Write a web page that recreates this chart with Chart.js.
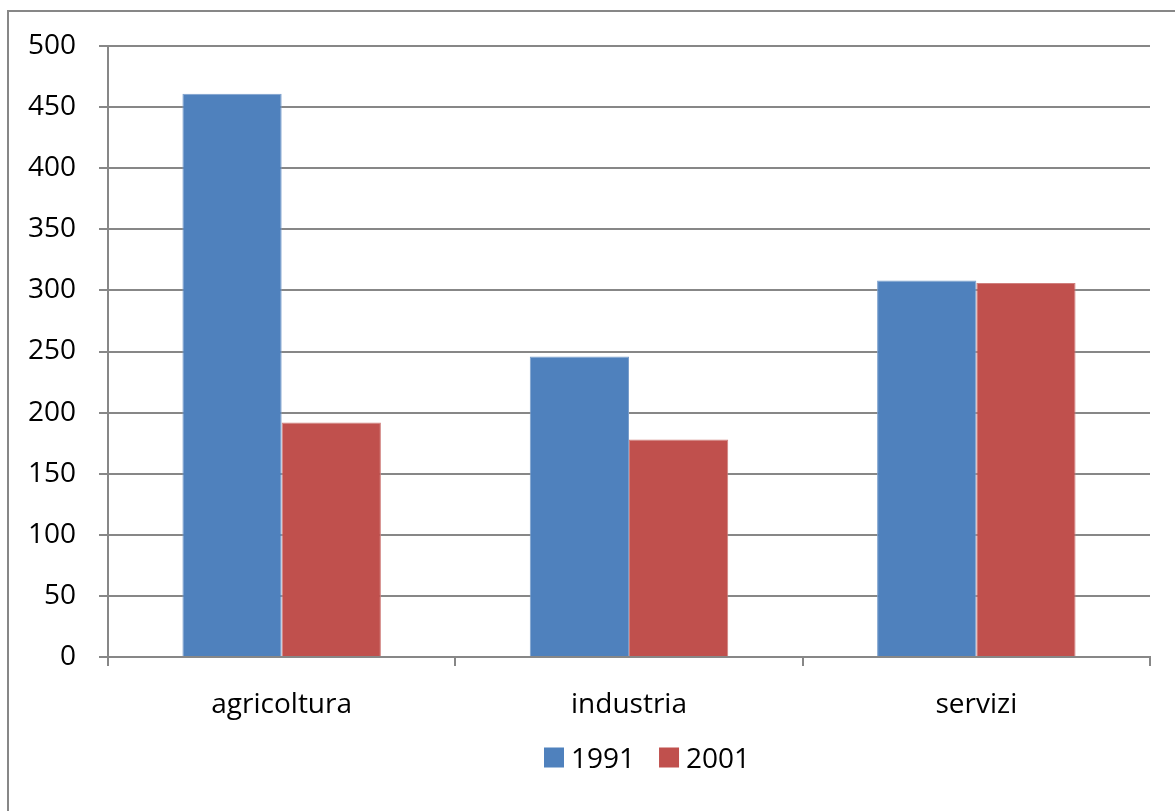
<!DOCTYPE html>
<html>
<head>
<meta charset="utf-8">
<script src="https://cdn.jsdelivr.net/npm/chart.js@4/dist/chart.umd.min.js"></script>
<style>
  html, body { margin: 0; padding: 0; background: #ffffff; }
  #wrap { position: relative; width: 1175px; height: 811px; }
</style>
</head>
<body>
<div id="wrap"><canvas id="chart" width="1175" height="811"></canvas></div>
<script>
// Sectors and employment figures for the two census years
const categories = ['agricoltura', 'industria', 'servizi'];
const years = ['1991', '2001'];
const values1991 = [461, 246, 308];
const values2001 = [192, 178, 306];
const yTicks = [0, 50, 100, 150, 200, 250, 300, 350, 400, 450, 500];

const FONT = '"Open Sans", "Noto Sans", sans-serif';
const FONT_SIZE = 28;
const GRID = '#878787';

// Frame around the whole chart object
const framePlugin = {
  id: 'frame',
  beforeDraw(chart) {
    const ctx = chart.ctx;
    ctx.save();
    ctx.fillStyle = '#ffffff';
    ctx.fillRect(0, 0, chart.width, chart.height);
    ctx.strokeStyle = GRID;
    ctx.lineWidth = 2;
    ctx.strokeRect(8, 11, chart.width + 40, chart.height + 40);
    ctx.restore();
  }
};

// Compact legend row under the category labels: square swatch, then year
const legendRowPlugin = {
  id: 'legendRow',
  afterDraw(chart) {
    const ctx = chart.ctx;
    const box = 20, gapText = 7, gapItem = 24;
    const centerX = 647, baseY = 768;
    ctx.save();
    ctx.font = FONT_SIZE + 'px ' + FONT;
    const items = chart.data.datasets.map(ds => ({
      text: ds.label,
      color: ds.backgroundColor,
      w: ctx.measureText(ds.label).width
    }));
    const total = items.reduce((s, it) => s + box + gapText + it.w, 0) + gapItem * (items.length - 1);
    let x = Math.round(centerX - total / 2);
    ctx.textBaseline = 'alphabetic';
    ctx.textAlign = 'left';
    items.forEach(it => {
      ctx.fillStyle = it.color;
      ctx.fillRect(x, baseY - box - 0.5, box, box);
      ctx.fillStyle = '#000000';
      ctx.fillText(it.text, x + box + gapText, baseY);
      x += box + gapText + it.w + gapItem;
    });
    ctx.restore();
  }
};

new Chart(document.getElementById('chart'), {
  type: 'bar',
  data: {
    labels: categories,
    datasets: [
      {
        label: years[0],
        data: values1991,
        backgroundColor: '#4F81BD',
        borderColor: '#7b9fcc',
        borderWidth: 1
      },
      {
        label: years[1],
        data: values2001,
        backgroundColor: '#C0504D',
        borderColor: '#d07f7d',
        borderWidth: 1
      }
    ]
  },
  plugins: [framePlugin, legendRowPlugin],
  options: {
    responsive: false,
    animation: false,
    devicePixelRatio: 1,
    layout: { padding: { left: 0, right: 25, top: 46, bottom: 0 } },
    datasets: {
      bar: { categoryPercentage: 2 / 3.5, barPercentage: 1 }
    },
    plugins: {
      tooltip: { enabled: false },
      legend: { display: false }
    },
    scales: {
      x: {
        offset: true,
        afterFit(scale) { scale.height = 154; },
        grid: {
          display: true,
          offset: true,
          drawOnChartArea: false,
          drawTicks: true,
          tickLength: 9,
          color: GRID,
          lineWidth: 2
        },
        border: { display: true, color: GRID, width: 2 },
        ticks: {
          color: '#000000',
          padding: 22,
          font: { family: FONT, size: FONT_SIZE }
        }
      },
      y: {
        min: 0,
        max: 500,
        afterBuildTicks(scale) {
          scale.ticks = yTicks.map(v => ({ value: v }));
        },
        afterFit(scale) { scale.width = 108; },
        grid: {
          color: GRID,
          lineWidth: 2,
          drawTicks: true,
          tickLength: 9
        },
        border: { display: true, color: GRID, width: 2 },
        ticks: {
          color: '#000000',
          padding: 23,
          font: { family: FONT, size: FONT_SIZE }
        }
      }
    }
  }
});
</script>
</body>
</html>
